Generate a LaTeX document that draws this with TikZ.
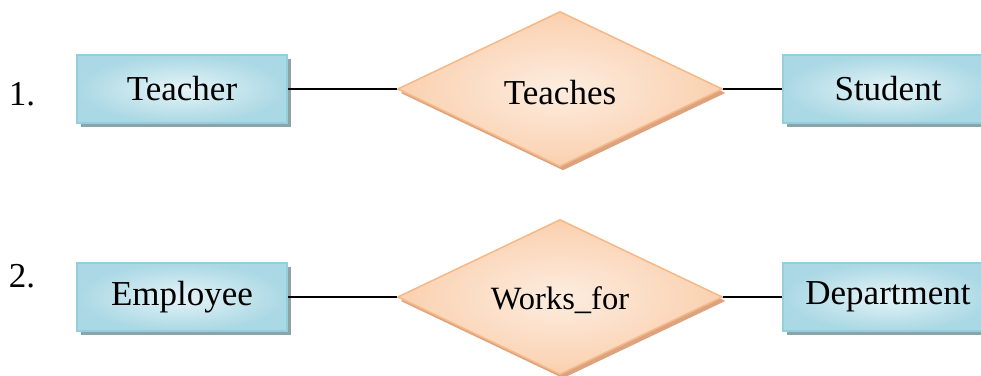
\documentclass[tikz,border=0pt]{standalone}
\usepackage{fontspec}
\setmainfont{Liberation Serif}
\usetikzlibrary{shapes.geometric,shadows}
\definecolor{boxedge}{HTML}{93CFDD}
\definecolor{boxin}{HTML}{E6F4F8}
\definecolor{boxout}{HTML}{AAD8E4}
\definecolor{boxshadow}{HTML}{8DA3A9}
\definecolor{dmedge}{HTML}{F6B886}
\definecolor{dmin}{HTML}{FDEDE0}
\definecolor{dmout}{HTML}{FAD0AF}
\definecolor{dmshadow}{HTML}{DCA37E}
\tikzset{
  bigtext/.style={font=\rmfamily\fontsize{35}{40}\selectfont},
  entity/.style={draw=boxedge, line width=1.2pt, inner color=boxin, outer color=boxout,
    minimum width=210pt, minimum height=68pt, inner sep=0pt,
    drop shadow={shadow xshift=4pt, shadow yshift=-4pt, fill=boxshadow, opacity=1},
    bigtext},
  relation/.style={diamond, draw=dmedge, line width=1.5pt, inner color=dmin, outer color=dmout,
    minimum width=325pt, minimum height=155pt, inner sep=0pt,
    drop shadow={shadow xshift=3pt, shadow yshift=-4pt, fill=dmshadow, opacity=1}},
  link/.style={draw=black, line width=1.3pt},
  numlabel/.style={bigtext, inner sep=0pt}
}
\begin{document}
\begin{tikzpicture}[x=1pt,y=-1pt]
\useasboundingbox (0,0) rectangle (981,375);
% row 1
\node[numlabel] (n1) at (22,94) {1.};
\node[entity] (teacher) at (182,89) {Teacher};
\node[relation] (teaches) at (560,89) {};
\node[bigtext] (teacheslbl) at (560,93) {Teaches};
\node[entity] (student) at (888,89) {Student};
\draw[link] (teacher.east) -- (teaches.west);
\draw[link] (teaches.east) -- (student.west);
% row 2
\node[numlabel] (n2) at (22,276) {2.};
\node[entity] (employee) at (182,297) {Employee};
\node[relation] (works) at (560,297) {};
\node[font=\rmfamily\fontsize{32.5}{38}\selectfont] (workslbl) at (560,300) {Works\_for};
\node[entity] (department) at (888,297) {Department};
\draw[link] (employee.east) -- (works.west);
\draw[link] (works.east) -- (department.west);
\end{tikzpicture}
\end{document}
